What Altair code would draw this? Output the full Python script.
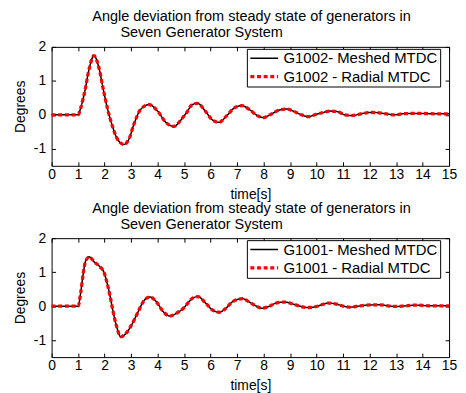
import altair as alt
import pandas as pd

# ---- data ----
time_g1002 = [0, 0.5, 1.0, 1.1, 1.26, 1.41, 1.6, 1.79, 1.94, 2.1, 2.29, 2.48, 2.73, 2.92, 3.11,
              3.36, 3.68, 3.99, 4.31, 4.62, 4.85, 5.0, 5.1, 5.29, 5.5, 5.79, 6.07, 6.32, 6.6,
              6.91, 7.19, 7.49, 7.78, 7.99, 8.28, 8.59, 8.87, 9.15, 9.46, 9.69, 10.0, 10.25,
              10.5, 10.81, 11.06, 11.31, 11.63, 11.88, 12.13, 12.44, 12.69, 12.94, 13.25,
              13.63, 14.0, 14.5, 15.0]
meshed_g1002 = [0, 0, 0, 0.21, 0.72, 1.33, 1.74, 1.37, 0.79, 0.21, -0.32, -0.71, -0.87, -0.71,
                -0.27, 0.16, 0.30, 0.12, -0.22, -0.34, -0.18, -0.03, 0.07, 0.29, 0.34, 0.12,
                -0.15, -0.22, -0.03, 0.21, 0.27, 0.14, -0.03, -0.08, 0.02, 0.14, 0.17, 0.10,
                -0.01, -0.05, 0.02, 0.07, 0.11, 0.09, 0.0, -0.02, 0.02, 0.06, 0.07, 0.05,
                0.02, 0.0, 0.03, 0.04, 0.04, 0.03, 0.03]
radial_g1002 = [0, 0, 0, 0.21, 0.72, 1.33, 1.74, 1.37, 0.79, 0.21, -0.32, -0.71, -0.87, -0.71,
                -0.27, 0.16, 0.30, 0.12, -0.22, -0.34, -0.18, -0.03, 0.07, 0.29, 0.34, 0.12,
                -0.15, -0.22, -0.03, 0.21, 0.27, 0.14, -0.03, -0.08, 0.02, 0.14, 0.17, 0.10,
                -0.01, -0.05, 0.02, 0.07, 0.11, 0.09, 0.0, -0.02, 0.02, 0.06, 0.07, 0.05,
                0.02, 0.0, 0.03, 0.04, 0.04, 0.03, 0.03]

time_g1001 = [0, 0.5, 1.0, 1.1, 1.19, 1.28, 1.42, 1.61, 1.82, 1.98, 2.07, 2.2, 2.32, 2.45, 2.61,
              2.83, 3.02, 3.27, 3.45, 3.71, 3.96, 4.21, 4.46, 4.71, 5.0, 5.09, 5.31, 5.52, 5.81,
              6.08, 6.33, 6.58, 6.83, 7.2, 7.48, 7.7, 7.92, 8.2, 8.47, 8.79, 9.12, 9.41, 9.69,
              10.0, 10.19, 10.44, 10.75, 11.06, 11.25, 11.56, 11.88, 12.38, 12.69, 12.94,
              13.25, 13.75, 14.25, 15.0]
meshed_g1001 = [0, 0, 0, 0.41, 0.94, 1.32, 1.45, 1.30, 1.16, 0.99, 0.75, 0.32, -0.16, -0.59,
                -0.90, -0.78, -0.55, -0.16, 0.12, 0.27, 0.12, -0.16, -0.29, -0.21, -0.04, 0.04,
                0.23, 0.28, 0.09, -0.12, -0.18, -0.06, 0.13, 0.22, 0.11, 0.01, -0.06, -0.01,
                0.09, 0.12, 0.06, -0.01, -0.04, -0.01, 0.04, 0.09, 0.06, -0.01, -0.03, 0.0,
                0.03, 0.04, 0.01, -0.01, 0.0, 0.03, 0.01, 0.01]
radial_g1001 = [0, 0, 0, 0.41, 0.94, 1.32, 1.45, 1.30, 1.16, 0.99, 0.75, 0.32, -0.16, -0.59,
                -0.90, -0.78, -0.55, -0.16, 0.12, 0.27, 0.12, -0.16, -0.29, -0.21, -0.04, 0.04,
                0.23, 0.28, 0.09, -0.12, -0.18, -0.06, 0.13, 0.22, 0.11, 0.01, -0.06, -0.01,
                0.09, 0.12, 0.06, -0.01, -0.04, -0.01, 0.04, 0.09, 0.06, -0.01, -0.03, 0.0,
                0.03, 0.04, 0.01, -0.01, 0.0, 0.03, 0.01, 0.01]

x_ticks = list(range(0, 16))
y_ticks = [-1, 0, 1, 2]
title_lines = ["Angle deviation from steady state of generators in",
               "\u200b" + "\u00a0" * 7 + "Seven Generator System"]

FONT = "Liberation Sans"


def panel(t, meshed, radial, gen):
    names = [f"{gen}- Meshed MTDC", f"{gen} - Radial MTDC"]
    df = pd.DataFrame({
        "t": list(t) + list(t),
        "v": list(meshed) + list(radial),
        "series": [names[0]] * len(t) + [names[1]] * len(t),
    })
    xs = alt.Scale(domain=[0, 15], nice=False, zero=False)
    ys = alt.Scale(domain=[-1.5, 2], nice=False, zero=False)
    legend = alt.Legend(
        title=None, orient="none", legendX=197, legendY=2,
        strokeColor="black", fillColor="white", padding=2,
        symbolType="M-2.8,0H2.8", symbolSize=100, symbolOffset=8,
        labelFontSize=15, labelFont=FONT, labelColor="black",
        labelOffset=12, rowPadding=2.5, cornerRadius=0,
    )
    enc = dict(
        color=alt.Color("series:N", scale=alt.Scale(domain=names, range=["black", "#ff0000"]), legend=legend),
        strokeDash=alt.StrokeDash("series:N", scale=alt.Scale(domain=names, range=[[1, 0], [4, 2.7]]), legend=legend),
        strokeWidth=alt.StrokeWidth("series:N", scale=alt.Scale(domain=names, range=[1.5, 3.3]), legend=legend),
    )
    x_main = alt.X("t:Q", scale=xs, axis=alt.Axis(
        orient="bottom", values=x_ticks, title="time[s]", offset=-4, tickSize=4,
        domain=False, grid=False, labelPadding=2, titlePadding=5.5, labelFlush=False))
    y_main = alt.Y("v:Q", scale=ys, axis=alt.Axis(
        orient="left", values=y_ticks, title="Degrees", offset=-4, tickSize=4,
        domain=False, grid=False, labelPadding=6, titlePadding=6,
        labelExpr="datum.value", labelFlush=False))
    base = alt.Chart(df)
    l1 = base.transform_filter(alt.datum.series == names[0]).mark_line(
        interpolate="monotone", strokeCap="butt").encode(x=x_main, y=y_main, **enc)
    l2 = base.transform_filter(alt.datum.series == names[1]).mark_line(
        interpolate="monotone", strokeCap="butt").encode(
        x=alt.X("t:Q", scale=xs, axis=None), y=alt.Y("v:Q", scale=ys, axis=None), **enc)
    ghost = base.mark_line(opacity=0).encode(
        x=alt.X("t:Q", scale=xs, axis=alt.Axis(
            orient="top", values=x_ticks, labels=False, title=None, offset=-4,
            tickSize=4, domain=False, grid=False)),
        y=alt.Y("v:Q", scale=ys, axis=alt.Axis(
            orient="right", values=y_ticks, labels=False, title=None, offset=-4,
            tickSize=4, domain=False, grid=False)),
    )
    return alt.layer(l1, l2, ghost).resolve_axis(x="independent", y="independent").properties(
        width=401, height=120,
        title=alt.TitleParams(
            text=title_lines, anchor="start", align="left", frame="group", dx=41,
            font=FONT, fontSize=14.6, fontWeight="normal", color="black",
            lineHeight=16, offset=0),
    )


top = panel(time_g1002, meshed_g1002, radial_g1002, "G1002")
bottom = panel(time_g1001, meshed_g1001, radial_g1001, "G1001")

chart = alt.vconcat(top, bottom, spacing=-2).resolve_scale(
    color="independent", strokeDash="independent", strokeWidth="independent"
).resolve_legend(
    color="independent", strokeDash="independent", strokeWidth="independent"
).properties(
    padding={"left": 5, "top": -1.5, "right": 0, "bottom": 0},
    background="white",
).configure_view(
    stroke="black", strokeWidth=1
).configure_axis(
    labelFont=FONT, titleFont=FONT, labelFontSize=14, titleFontSize=14,
    titleFontWeight="normal", labelColor="black", titleColor="black",
    tickColor="black", tickWidth=1,
)

chart.save("out.html", embed_options={"renderer": "svg", "actions": False})
